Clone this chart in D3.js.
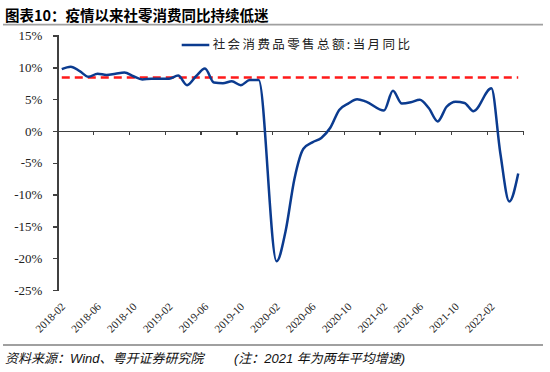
<!DOCTYPE html>
<html>
<head>
<meta charset="utf-8">
<script src="https://cdn.jsdelivr.net/npm/d3@7"></script>
<style>
  body { margin: 0; background: #fff; }
  svg { display: block; }
  .axis path, .axis line { stroke: #404040; stroke-width: 1.4; shape-rendering: crispEdges; }
</style>
</head>
<body>
<svg id="chart" width="550" height="372"></svg>
<script>
// months on the category axis (January values are not published, left empty)
var months = [
  "2018-02","2018-03","2018-04","2018-05","2018-06","2018-07","2018-08","2018-09","2018-10","2018-11","2018-12",
  "2019-01","2019-02","2019-03","2019-04","2019-05","2019-06","2019-07","2019-08","2019-09","2019-10","2019-11","2019-12",
  "2020-01","2020-02","2020-03","2020-04","2020-05","2020-06","2020-07","2020-08","2020-09","2020-10","2020-11","2020-12",
  "2021-01","2021-02","2021-03","2021-04","2021-05","2021-06","2021-07","2021-08","2021-09","2021-10","2021-11","2021-12",
  "2022-01","2022-02","2022-03","2022-04","2022-05"
];

// 社会消费品零售总额:当月同比 (%)
var retailYoY = [
  9.7, 10.1, 9.4, 8.5, 9.0, 8.8, 9.0, 9.2, 8.6, 8.1, 8.2,
  null, 8.2, 8.7, 7.2, 8.6, 9.8, 7.6, 7.5, 7.8, 7.2, 8.0, 8.0,
  null, -20.5, -15.8, -7.5, -2.8, -1.8, -1.1, 0.5, 3.3, 4.3, 5.0, 4.6,
  null, 3.2, 6.3, 4.3, 4.5, 4.9, 3.6, 1.5, 3.8, 4.6, 4.4, 3.1,
  null, 6.7, -3.5, -11.1, -6.7
];

// pre-pandemic reference level (red dashed line)
var refLevel = 8.4;

var yTicks = [-25, -20, -15, -10, -5, 0, 5, 10, 15];
var xLabels = months.filter(function (d, i) { return i % 4 === 0; });

var title = "图表10：疫情以来社零消费同比持续低迷";
var legendLabel = "社会消费品零售总额:当月同比";
var source = "资料来源：Wind、粤开证券研究院";
var note = "(注：2021 年为两年平均增速)";

var serif = "'Liberation Serif', 'Times New Roman', serif";

var svg = d3.select("#chart");

var x = d3.scaleBand().domain(months).range([57.3, 522.7]).padding(0),
    xEdge = d3.scaleLinear().domain([0, months.length]).range(x.range()),
    y = d3.scaleLinear().domain([-25, 15]).range([290, 35.5]);

var cx = function (m) { return x(m) + x.bandwidth() / 2; };

// title and rules
svg.append("text")
    .attr("x", 5).attr("y", 20.5)
    .style("font-family", "'Noto Sans CJK SC', sans-serif")
    .style("font-weight", "bold")
    .style("font-size", "14.5px")
    .attr("fill", "#000")
    .text(title);

[24.7, 345].forEach(function (yy) {
  svg.append("line")
      .attr("x1", 3).attr("x2", 543)
      .attr("y1", yy).attr("y2", yy)
      .attr("stroke", "#a0a0a0")
      .attr("stroke-width", 1.8);
});

// y axis
var yAxis = d3.axisLeft(y)
    .tickValues(yTicks)
    .tickSize(4)
    .tickPadding(11)
    .tickFormat(function (d) { return d + "%"; });

svg.append("g")
    .attr("class", "axis axis--y")
    .attr("transform", "translate(57.3,0)")
    .call(yAxis)
    .call(function (g) {
      g.selectAll("text")
          .style("font-family", serif)
          .style("font-size", "13px")
          .attr("fill", "#222");
    });

// x axis line at zero with ticks between every 4 months
svg.append("g")
    .attr("class", "axis axis--x")
    .attr("transform", "translate(0," + y(0) + ")")
    .call(d3.axisBottom(xEdge)
        .tickValues(d3.range(0, months.length + 1, 4))
        .tickSize(4)
        .tickSizeOuter(0)
        .tickFormat(""));

// rotated month labels below the plot
svg.append("g")
    .attr("class", "axis axis--labels")
    .attr("transform", "translate(0,306)")
    .call(d3.axisBottom(x).tickValues(xLabels).tickSize(0))
    .call(function (g) {
      g.select(".domain").remove();
      g.selectAll("text")
          .attr("x", 2).attr("y", 0).attr("dy", "0.35em")
          .attr("text-anchor", "end")
          .attr("transform", "rotate(-45)")
          .attr("fill", "#222")
          .style("font-family", serif)
          .style("font-size", "11px");
    });

// red dashed reference line
var refLine = d3.line()
    .x(function (d) { return cx(d); })
    .y(function () { return y(refLevel); });

svg.append("path")
    .datum([months[0], months[months.length - 1]])
    .attr("d", refLine)
    .attr("fill", "none")
    .attr("stroke", "#ff1a1a")
    .attr("stroke-width", 2.4)
    .attr("stroke-dasharray", "8,5");

// retail sales line, gaps for January are bridged
var series = months.map(function (m, i) { return { month: m, value: retailYoY[i] }; })
    .filter(function (d) { return d.value != null; });

var retailLine = d3.line()
    .curve(d3.curveMonotoneX)
    .x(function (d) { return cx(d.month); })
    .y(function (d) { return y(d.value); });

svg.append("path")
    .datum(series)
    .attr("d", retailLine)
    .attr("fill", "none")
    .attr("stroke", "#0b3b8f")
    .attr("stroke-width", 2.5)
    .attr("stroke-linejoin", "round");

// legend
var legend = svg.append("g").attr("transform", "translate(181.7,45)");
legend.append("line")
    .attr("x1", 0).attr("x2", 27.6)
    .attr("stroke", "#0b3b8f")
    .attr("stroke-width", 2.5);
legend.append("text")
    .attr("x", 31).attr("dy", "0.35em")
    .style("font-family", "'Noto Sans CJK SC', sans-serif")
    .style("font-size", "12.5px")
    .style("letter-spacing", "2.4px")
    .attr("fill", "#222")
    .text(legendLabel);

// source and note
var foot = svg.append("g")
    .style("font-family", "'Liberation Sans', 'Noto Sans CJK SC', sans-serif")
    .style("font-style", "italic")
    .style("font-size", "13px")
    .attr("fill", "#111");
foot.append("text").attr("x", 5).attr("y", 363).text(source);
foot.append("text").attr("x", 234).attr("y", 363).text(note);
</script>
</body>
</html>
